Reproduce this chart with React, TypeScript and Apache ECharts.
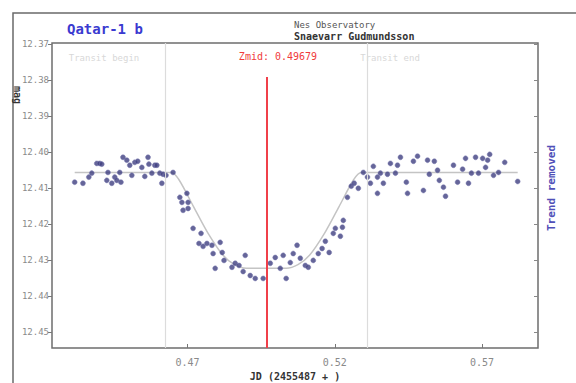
import React, { useEffect, useRef } from "react";
import * as echarts from "echarts";

// ---- data ----
const tickX = [0.47, 0.52, 0.57];
const tickY = [12.37, 12.38, 12.39, 12.4, 12.41, 12.42, 12.43, 12.44, 12.45];

const obsX = [
  0.4317, 0.4345, 0.4365, 0.4375, 0.4392, 0.4402, 0.4409, 0.443, 0.4426, 0.4443,
  0.4453, 0.446, 0.447, 0.4474, 0.4481, 0.4494, 0.4504, 0.4511, 0.4521, 0.4531,
  0.4545, 0.4555, 0.4566, 0.4569, 0.4579, 0.4589, 0.4596, 0.4606, 0.4613, 0.4617,
  0.4627, 0.4651, 0.4674, 0.4698, 0.4681, 0.4702, 0.4685, 0.4702, 0.4719, 0.4746,
  0.4739, 0.4753, 0.4766, 0.4783, 0.4787, 0.4811, 0.4818, 0.4824, 0.4794, 0.4851,
  0.4862, 0.4875, 0.4889, 0.4896, 0.4913, 0.493, 0.4957, 0.4981, 0.4998, 0.5015,
  0.5025, 0.5035, 0.5049, 0.5059, 0.5072, 0.5083, 0.51, 0.511, 0.5127, 0.5144,
  0.5157, 0.5168, 0.5181, 0.5195, 0.5202, 0.5219, 0.5226, 0.5229, 0.5243, 0.5256,
  0.5266, 0.528, 0.5297, 0.5311, 0.5321, 0.5331, 0.5345, 0.5345, 0.5355, 0.5365,
  0.5379, 0.5389, 0.5406, 0.5413, 0.5423, 0.5443, 0.5447, 0.5467, 0.5481, 0.5501,
  0.5515, 0.5521, 0.5538, 0.5549, 0.5555, 0.5569, 0.5576, 0.5603, 0.5617, 0.5634,
  0.5644, 0.5654, 0.5664, 0.5678, 0.5688, 0.5702, 0.5712, 0.5719, 0.5726, 0.5739,
  0.5756, 0.5777, 0.5821,
];
const obsY = [
  12.4083, 12.4086, 12.4069, 12.4058, 12.4031, 12.4031, 12.4033, 12.4056, 12.4078, 12.4086,
  12.4069, 12.4078, 12.4056, 12.4083, 12.4014, 12.4022, 12.4036, 12.4064, 12.4028, 12.4025,
  12.4042, 12.4067, 12.4014, 12.4033, 12.4058, 12.4036, 12.4036, 12.4058, 12.4086, 12.4061,
  12.4064, 12.4056, 12.4125, 12.4114, 12.4139, 12.4139, 12.4161, 12.4156, 12.4211, 12.4225,
  12.4253, 12.4261, 12.4253, 12.4258, 12.4281, 12.425, 12.4278, 12.43, 12.4322, 12.4319,
  12.4308, 12.4314, 12.4331, 12.4286, 12.4342, 12.435, 12.435, 12.4308, 12.4292, 12.4322,
  12.4286, 12.435, 12.4306, 12.4281, 12.4258, 12.4294, 12.4314, 12.4319, 12.43, 12.4281,
  12.4267, 12.4247, 12.4278, 12.4225, 12.4211, 12.4233, 12.4208, 12.4189, 12.4125, 12.4094,
  12.4086, 12.41, 12.4056, 12.4069, 12.4086, 12.4039, 12.4114, 12.4069, 12.4058, 12.4086,
  12.4061, 12.4031, 12.4058, 12.4036, 12.4014, 12.4083, 12.4114, 12.4025, 12.4011, 12.4106,
  12.4022, 12.4061, 12.4025, 12.405, 12.4078, 12.4097, 12.4122, 12.4036, 12.4083, 12.4047,
  12.4017, 12.4086, 12.4058, 12.4014, 12.4058, 12.4017, 12.4042, 12.4022, 12.4006, 12.4064,
  12.4056, 12.4028, 12.4081,
];

const modelX = [
  0.4317, 0.4645, 0.467, 0.472, 0.477, 0.482, 0.486, 0.49, 0.5035, 0.5075, 0.5115,
  0.5165, 0.5215, 0.5265, 0.529, 0.5821,
];
const modelY = [
  12.4056, 12.4056, 12.4075, 12.415, 12.4225, 12.4285, 12.4312, 12.4322, 12.4322,
  12.4312, 12.4285, 12.4225, 12.415, 12.4075, 12.4056, 12.4056,
];

const tMid = 0.4968;
const tBegin = 0.4623;
const tEnd = 0.5311;

const X_MIN = 0.424;
const X_MAX = 0.589;
const Y_MIN = 12.3697;
const Y_MAX = 12.4543;
const MID_LINE_TOP = 12.3791;

const MONO = "'DejaVu Sans Mono', 'Liberation Mono', monospace";

export default function App() {
  const ref = useRef<HTMLDivElement>(null);

  useEffect(() => {
    document.body.style.margin = "0";
    if (!ref.current) return;
    const chart = echarts.init(ref.current, undefined, { renderer: "svg" });

    const obs = obsX.map((x, i) => [x, obsY[i]]);
    const model = modelX.map((x, i) => [x, modelY[i]]);

    chart.setOption({
      animation: false,
      backgroundColor: "#ffffff",
      grid: {
        left: 52,
        right: 38,
        top: 43,
        bottom: 35,
        show: true,
        borderColor: "#6e6e6e",
        borderWidth: 1.5,
        backgroundColor: "transparent",
        outerBoundsMode: "none",
      },
      xAxis: [
        {
          type: "value",
          position: "bottom",
          min: X_MIN,
          max: X_MAX,
          axisLine: { show: false },
          splitLine: { show: false },
          axisTick: {
            show: true,
            inside: true,
            length: 4,
            customValues: tickX,
            lineStyle: { color: "#777" },
          },
          axisLabel: {
            customValues: tickX,
            formatter: (v: number) => v.toFixed(2),
            color: "#8a8a8a",
            fontFamily: MONO,
            fontSize: 10,
            margin: 9,
          },
          name: "JD (2455487 + )",
          nameLocation: "middle",
          nameGap: 19,
          nameTextStyle: {
            color: "#333",
            fontFamily: MONO,
            fontSize: 10,
            fontWeight: "bold",
          },
        },
      ],
      yAxis: [
        {
          type: "value",
          position: "left",
          inverse: true,
          min: Y_MIN,
          max: Y_MAX,
          axisLine: { show: false },
          splitLine: { show: false },
          axisTick: {
            show: true,
            inside: false,
            length: 4,
            customValues: tickY,
            lineStyle: { color: "#777" },
          },
          axisLabel: {
            customValues: tickY,
            formatter: (v: number) => v.toFixed(2),
            color: "#8a8a8a",
            fontFamily: MONO,
            fontSize: 9,
            margin: 3,
          },
        },
        {
          type: "value",
          position: "right",
          inverse: true,
          min: Y_MIN,
          max: Y_MAX,
          axisLine: { show: false },
          splitLine: { show: false },
          axisTick: {
            show: true,
            inside: true,
            length: 4,
            customValues: tickY,
            lineStyle: { color: "#888" },
          },
          axisLabel: { show: false },
        },
      ],
      series: [
        {
          type: "line",
          data: model,
          smooth: 0.3,
          symbol: "none",
          lineStyle: { color: "#c4c4c4", width: 1.5 },
          z: 2,
          markLine: {
            silent: true,
            symbol: "none",
            label: { show: false },
            data: [
              [
                { coord: [tBegin, Y_MIN], lineStyle: { color: "#dcdcdc", width: 1.2, type: "solid" } },
                { coord: [tBegin, Y_MAX] },
              ],
              [
                { coord: [tEnd, Y_MIN], lineStyle: { color: "#dcdcdc", width: 1.2, type: "solid" } },
                { coord: [tEnd, Y_MAX] },
              ],
              [
                { coord: [tMid, MID_LINE_TOP], lineStyle: { color: "#f0404a", width: 2, type: "solid" } },
                { coord: [tMid, Y_MAX] },
              ],
            ],
          },
        },
        {
          type: "scatter",
          data: obs,
          symbol: "circle",
          symbolSize: 5,
          itemStyle: { color: "#3f3f80", borderColor: "#7a7ab0", borderWidth: 0.6 },
          z: 3,
        },
      ],
      graphic: [
        {
          type: "rect",
          shape: { x: 13, y: 13, width: 620, height: 420 },
          style: { fill: "none", stroke: "#6a6a6a", lineWidth: 1.5 },
          z: 0,
        },
        {
          type: "text",
          x: 67,
          y: 29,
          style: {
            text: "Qatar-1 b",
            fill: "#3a3ad0",
            font: `bold 14px ${MONO}`,
            verticalAlign: "middle",
          },
        },
        {
          type: "text",
          x: 294,
          y: 25,
          style: {
            text: "Nes Observatory",
            fill: "#555",
            font: `9px ${MONO}`,
            verticalAlign: "middle",
          },
        },
        {
          type: "text",
          x: 294,
          y: 36,
          style: {
            text: "Snaevarr Gudmundsson",
            fill: "#333",
            font: `bold 10px ${MONO}`,
            verticalAlign: "middle",
          },
        },
        {
          type: "text",
          x: 278,
          y: 56,
          style: {
            text: "Zmid: 0.49679",
            fill: "#f03a3a",
            font: `10px ${MONO}`,
            align: "center",
            verticalAlign: "middle",
          },
        },
        {
          type: "text",
          x: 104,
          y: 58,
          style: {
            text: "Transit begin",
            fill: "#d8d8d8",
            font: `9px ${MONO}`,
            align: "center",
            verticalAlign: "middle",
          },
        },
        {
          type: "text",
          x: 390,
          y: 58,
          style: {
            text: "Transit end",
            fill: "#d8d8d8",
            font: `9px ${MONO}`,
            align: "center",
            verticalAlign: "middle",
          },
        },
        {
          type: "text",
          x: 17,
          y: 95,
          rotation: -Math.PI / 2,
          style: {
            text: "mag",
            fill: "#333",
            font: `bold 10px ${MONO}`,
            align: "center",
            verticalAlign: "middle",
          },
        },
        {
          type: "text",
          x: 551,
          y: 188,
          rotation: Math.PI / 2,
          style: {
            text: "Trend removed",
            fill: "#5050b8",
            font: `bold 11px ${MONO}`,
            align: "center",
            verticalAlign: "middle",
          },
        },
      ],
    });

    return () => chart.dispose();
  }, []);

  return <div ref={ref} style={{ width: 576, height: 383 }} />;
}
